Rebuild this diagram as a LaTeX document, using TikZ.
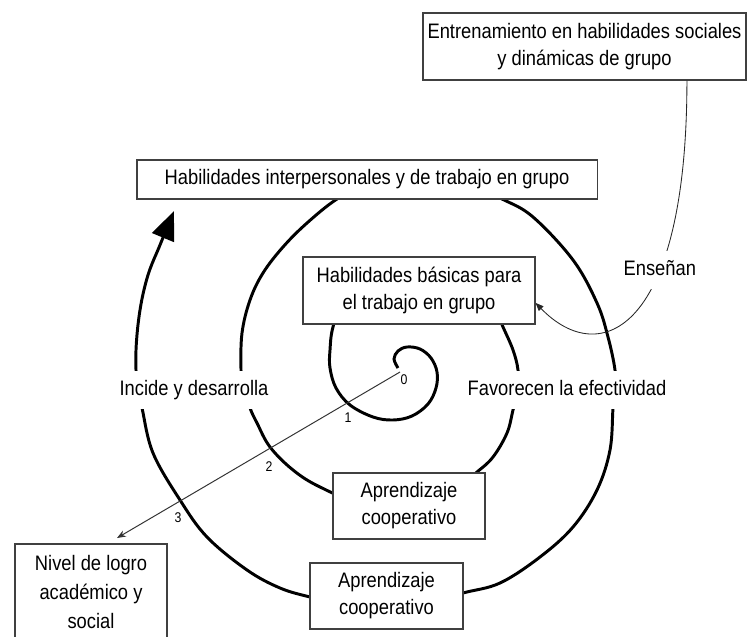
\documentclass[tikz,border=0pt]{standalone}
\usepackage{fontspec}
\setmainfont{Liberation Sans}[FakeStretch=0.875]
\usetikzlibrary{arrows.meta, positioning}

\begin{document}
\begin{tikzpicture}[
          x=0.025cm, y=-0.025cm,
          box/.style={
              draw=black!75,
              fill=white,
              line width=0.8pt,
              inner sep=0pt,
              align=center,
              font=\fontsize{14.9pt}{19.2pt}\selectfont
            },
          lbl/.style={
              fill=white,
              text=black,
              inner sep=1pt,
              minimum height=0.95cm,
              text height=11pt,
              text depth=3pt,
              font=\fontsize{14.9pt}{19.2pt}\selectfont
            },
          num/.style={inner sep=1pt, font=\fontsize{10pt}{12pt}\selectfont},
          spiral/.style={black, line width=2.1pt},
          bigarr/.style={-{Triangle[length=0.72cm, width=0.58cm]}},
          thinarr/.style={-{Stealth[length=0.22cm, width=0.17cm]}, black!80, line width=0.7pt},
          tiparr/.style={-{Triangle[length=0.2cm, width=0.16cm]}, black!85, line width=0.6pt}
        ]
        \useasboundingbox[fill=white] (0,0) rectangle (747,636);

        % spiral, drawn first so that the boxes cover it
        \draw[spiral, bigarr] plot[smooth, tension=0.6] coordinates {
            (398,368) (394,359) (398,351) (407,347) (420,349) (431,358) (437,372)
            (436,388) (428,404) (412,416) (393,420) (373,417) (350,405) (336,388)
            (330,368) (330,350) (333,327)
            (345,295) (375,278) (420,272) (465,282) (493,305) (503,327)
            (513,350) (518,370) (518,390) (513,410) (507,433) (493,457) (477,472)
            (450,493) (410,505) (365,505)
            (320,487) (293,470) (270,447) (257,423) (250,408) (243,385) (241,370)
            (242,333) (250,300) (263,273) (283,247) (307,223) (337,199)
            (370,182) (420,176) (465,183) (502,199)
            (533,217) (573,260) (597,303) (608,337) (615,370) (615,390) (613,408)
            (610,450) (597,490) (573,527) (540,557) (500,583) (463,593)
            (430,603) (385,608) (345,605) (310,597)
            (280,588) (247,570) (207,537) (180,500) (153,453) (142,408) (137,385)
            (136,350) (140,310) (148,275) (160,245) (174,211)};

        \node[box, minimum width=8.075cm, minimum height=1.675cm] (entren) at (584.5,46.5)
            {Entrenamiento en habilidades sociales\\y dinámicas de grupo};
        \node[box, minimum width=11.5cm, minimum height=0.975cm] (interp) at (367,179.5)
            {Habilidades interpersonales y de trabajo en grupo};
        \node[box, minimum width=5.8cm, minimum height=1.675cm] (basicas) at (419,290.5)
            {Habilidades básicas para\\el trabajo en grupo};
        \node[box, minimum width=3.8cm, minimum height=1.65cm] (aprend_in) at (409,506)
            {Aprendizaje\\cooperativo};
        \node[box, minimum width=3.825cm, minimum height=1.65cm] (aprend_out) at (386.5,596)
            {Aprendizaje\\cooperativo};
        \node[box, minimum width=3.8cm, minimum height=2.4cm,
              font=\fontsize{14.9pt}{20.4pt}\selectfont] (nivel) at (91,592)
            {Nivel de logro\\académico y\\social};

        \node[lbl] (incide) at (194,390) {Incide y desarrolla};
        \node[lbl] (favorecen) at (567,390) {Favorecen la efectividad};

        \node[num] (n0) at (404,380) {0};
        \node[num] (n1) at (348,418) {1};
        \node[num] (n2) at (269,467) {2};
        \node[num] (n3) at (178,518) {3};

        \coordinate (ctr) at (400,372);
        \coordinate (nivel_tip) at (117,538);
        \draw[thinarr] (ctr) -- (nivel_tip);

        \draw[tiparr] ([xshift=2.56cm]entren.south)
            .. controls +(0,250) and +(65,67) .. node[lbl, pos=0.35] {Enseñan}
            ([yshift=-0.31cm]basicas.east);
      \end{tikzpicture}
\end{document}
